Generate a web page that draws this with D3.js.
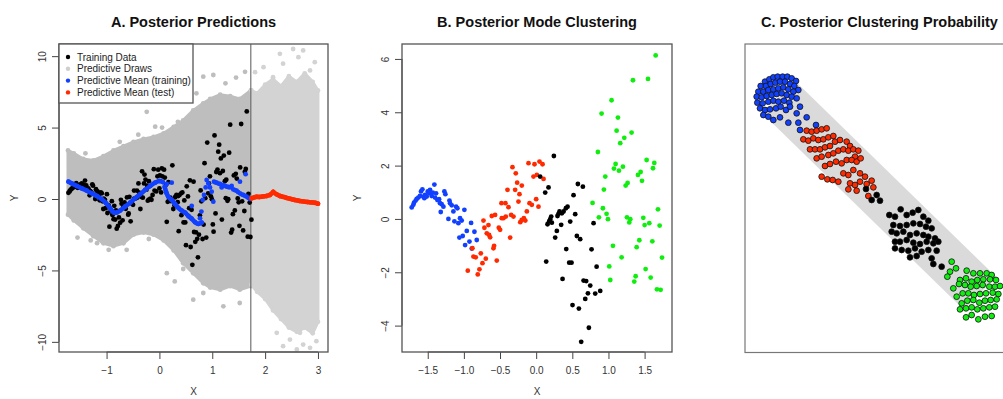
<!DOCTYPE html>
<html><head><meta charset="utf-8">
<script src="https://cdn.jsdelivr.net/npm/d3@7"></script>
<style>body{margin:0;background:#fff;} svg{display:block;font-family:"Liberation Sans",Arial,sans-serif;}</style>
</head><body><svg id="c" width="1003" height="399"></svg>
<script>
// ---------- training data (x, y) by posterior mode cluster ----------
const c1X = [-1.722,-1.699,-1.690,-1.667,-1.653,-1.630,-1.607,-1.593,-1.574,-1.560,-1.547,-1.537,-1.514,-1.500,-1.482,-1.468,-1.445,-1.431,-1.408,-1.399,-1.385,-1.367,-1.343,-1.330,-1.320,-1.307,-1.283,-1.270,-1.256,-1.214,-1.200,-1.191,-1.168,-1.145,-1.131,-1.108,-1.090,-1.076,-1.053,-1.030,-1.062,-1.016,-0.993,-0.983,-0.960,-0.923,-0.900,-0.891,-0.854,-0.822];
const c1Y = [0.43,0.53,0.61,0.69,0.75,0.80,0.86,1.03,1.11,0.84,0.78,0.90,0.84,1.03,0.96,1.09,0.86,0.99,1.29,0.80,0.96,0.71,0.74,0.59,0.26,0.55,0.46,1.03,0.93,0.00,0.69,0.59,0.51,0.28,-0.09,0.46,0.40,-0.16,0.03,-0.06,-0.70,-0.64,0.34,-0.98,-0.45,-0.85,-0.15,-1.11,-0.48,-0.79];
const c2X = [-0.946,-0.882,-0.868,-0.836,-0.808,-0.785,-0.766,-0.743,-0.729,-0.716,-0.697,-0.683,-0.660,-0.651,-0.637,-0.614,-0.591,-0.582,-0.568,-0.545,-0.517,-0.499,-0.476,-0.453,-0.480,-0.425,-0.420,-0.397,-0.383,-0.360,-0.346,-0.314,-0.328,-0.291,-0.282,-0.263,-0.245,-0.231,-0.199,-0.220,-0.200,-0.170,-0.150,-0.129,-0.106,-0.092,-0.060,-0.037,-0.023,0.000,0.009,0.032,0.046,0.088,0.102];
const c2Y = [-1.94,-1.10,-1.41,-1.44,-2.08,-1.89,-1.29,-1.66,-0.06,-0.33,-1.49,-0.54,-0.23,-0.60,-0.69,0.11,-1.10,-1.01,0.15,-1.56,-0.33,-0.41,0.03,0.03,0.59,0.59,0.09,1.09,0.44,-0.70,0.15,0.09,1.94,1.09,1.71,1.36,0.65,0.93,1.25,-0.12,-0.04,0.03,-0.06,0.28,2.09,0.59,0.53,1.59,2.05,0.74,1.65,0.46,2.15,2.05,1.50];
const c3X = [0.055,0.171,0.125,0.245,0.577,0.646,0.517,0.434,0.411,0.379,0.356,0.323,0.309,0.295,0.208,0.194,0.180,0.217,0.157,0.540,0.346,0.471,0.794,0.286,0.263,0.563,0.609,0.766,0.416,0.139,0.457,0.489,0.836,0.365,0.656,0.692,0.748,0.716,0.817,0.886,0.679,0.503,0.591,0.729,0.623];
const c3Y = [1.59,1.18,0.99,2.36,1.31,1.21,0.89,0.46,0.40,0.28,0.21,0.28,0.19,0.11,0.09,-0.01,-0.09,-0.14,-0.20,0.18,-0.22,-0.10,-0.16,-0.45,-0.70,-0.64,-0.76,-1.14,-1.13,-1.60,-1.64,-1.64,-1.79,-2.25,-2.31,-2.33,-2.50,-2.79,-2.80,-2.70,-3.00,-3.23,-3.36,-4.08,-4.61];
const c4X = [1.653,1.339,1.547,1.043,0.905,1.131,1.113,1.320,1.219,1.163,0.854,1.099,1.200,1.076,1.145,1.528,1.634,1.616,1.445,1.408,0.956,1.265,1.238,1.464,0.937,0.780,0.923,0.974,0.868,0.993,1.256,1.302,1.288,1.482,1.565,1.500,1.685,1.708,1.427,1.390,1.607,1.062,1.182,1.741,1.011,1.514,1.025,1.376,1.357,1.584,1.671,1.722];
const c4Y = [6.13,5.20,5.25,4.45,3.95,3.80,3.31,3.24,3.04,2.84,2.51,2.06,1.96,1.89,1.81,2.21,2.10,1.90,1.76,1.65,1.59,1.35,1.25,1.43,1.10,0.60,0.40,0.19,0.06,-0.01,0.06,-0.01,-0.13,0.04,-0.16,-0.23,0.36,-0.25,-0.80,-1.06,-0.84,-1.01,-1.44,-1.45,-1.78,-1.88,-2.29,-2.15,-2.35,-2.20,-2.64,-2.66];
const clusterColors = ["#1240ff","#ff2a00","#000000","#10ee10"];

// ---------- predictive mean (training) ----------
const meanSeg1X = [-1.720,-1.657,-1.562,-1.468,-1.373,-1.279,-1.184,-1.090,-1.008,-0.945,-0.890,-0.850,-0.800,-0.743,-0.649,-0.554,-0.460,-0.365,-0.271,-0.176,-0.082,0.000,0.063];
const meanSeg1Y = [1.21,1.09,0.91,0.74,0.58,0.40,0.21,-0.02,-0.30,-0.58,-0.85,-0.97,-0.93,-0.81,-0.53,-0.26,0.05,0.33,0.63,0.91,1.14,1.26,1.19];
const meanSeg2X = [0.100,0.130,0.170,0.233,0.296,0.359,0.422,0.485,0.548,0.611,0.674,0.737,0.800];
const meanSeg2Y = [0.85,0.45,0.15,-0.07,-0.35,-0.62,-0.81,-0.95,-1.19,-1.38,-1.62,-1.74,-1.65];
const meanScatX = [0.139,0.233,0.611,0.768,0.794,0.819,0.844,0.876,0.894,0.926,0.957,0.989,1.020,1.033,1.060,1.083,1.115,1.146,1.178,1.209,1.240,1.272,1.300,1.335,1.367,1.398,1.430,1.461,1.490,1.524,1.555,1.587,1.620,1.650,1.680,1.713,1.524,1.631];
const meanScatY = [1.05,1.14,-0.49,-1.35,-0.88,-0.07,0.28,0.81,1.33,1.09,0.81,0.51,-0.19,1.21,1.16,1.14,1.08,1.05,0.81,0.98,0.92,0.86,0.84,0.81,0.91,0.67,0.62,0.58,0.48,0.40,0.33,0.28,0.22,0.16,0.08,0.00,1.21,1.74];

// ---------- predictive mean (test) ----------
const testMeanX = [1.745,1.800,1.839,1.890,1.934,1.980,2.028,2.091,2.154,2.217,2.280,2.330,2.375,2.420,2.469,2.520,2.564,2.610,2.658,2.700,2.753,2.800,2.847,2.890,2.942,3.000];
const testMeanY = [0.05,0.12,0.16,0.14,0.16,0.19,0.21,0.28,0.49,0.33,0.21,0.16,0.12,0.06,0.02,-0.03,-0.07,-0.10,-0.14,-0.16,-0.19,-0.21,-0.23,-0.24,-0.26,-0.33];

// ---------- predictive draws: dense envelope + sparse draws ----------
const drawTrainX  = [-1.73,-1.62,-1.44,-1.25,-1.06,-0.87,-0.68,-0.49,-0.30,-0.11,0.08,0.27,0.45,0.64,0.83,0.96,1.15,1.34,1.52,1.73];
const drawTrainHi = [3.4,3.2,2.8,2.7,3.0,3.4,3.7,4.0,4.2,4.35,4.6,5.05,5.5,6.2,6.7,7.0,7.3,7.2,7.0,7.6];
const drawTrainLo = [-1.1,-1.5,-2.05,-2.6,-3.1,-3.3,-3.1,-2.5,-2.35,-2.5,-2.9,-3.6,-4.5,-5.2,-5.9,-6.2,-6.35,-6.1,-6.35,-6.1];
const drawTestX  = [1.74,1.85,2.00,2.15,2.30,2.45,2.60,2.75,2.90,3.00];
const drawTestHi = [7.6,7.4,8.0,8.4,7.9,8.6,8.2,8.8,8.2,7.6];
const drawTestLo = [-6.0,-6.5,-7.0,-7.8,-8.4,-9.0,-9.3,-9.0,-9.4,-8.6];
const sparseTrainX = [-0.55,-0.24,-0.08,0.61,0.83,1.02,0.70,1.25,1.45,1.62,-1.18,-0.96,-0.62,0.14,0.29,0.64,0.83,1.21,1.52,-1.55,0.45,-1.40,-0.75,-0.40,0.05,0.35,-1.30,-0.20];
const sparseTrainY = [3.53,6.10,5.06,5.86,8.56,8.68,7.4,8.1,8.5,8.9,-3.09,-3.56,-3.56,-5.19,-5.77,-7.05,-6.58,-7.51,-7.28,-2.7,-4.9,3.2,4.0,4.5,5.0,5.4,-2.9,-2.8];
const sparseTestX = [1.81,1.97,2.28,2.34,2.53,2.63,2.72,2.94,2.85,2.15,2.22,2.34,2.47,2.60,2.72,2.85,2.97,2.66];
const sparseTestY = [8.88,9.23,10.16,9.47,10.5,9.93,10.4,9.58,9.0,8.53,-9.37,-10.3,-9.84,-10.53,-10.19,-10.42,-9.95,-9.37];
const splitX = 1.73;

// ---------- panel C: embedding coordinates of pairwise clustering probability ----------
const mds1X = [75,88,100,113,128,142,155,168,62,78,92,106,120,135,150,163,175,55,70,85,100,115,130,145,160,50,65,80,95,110,125,140,155,170,52,68,85,100,115,132,148,60,75,90,108,122,138,150,70,85,100,120,145,170,180,175,200,180,228];
const mds1Y = [65,58,52,50,50,50,55,63,78,78,72,68,65,65,72,78,90,95,95,90,88,85,82,88,95,110,112,108,105,102,100,105,110,115,128,130,125,122,125,122,128,145,150,148,145,140,150,140,165,170,180,172,188,160,140,188,172,210,195];
const mds2X = [200,215,230,245,260,190,205,220,235,250,265,280,210,225,240,255,270,285,300,320,330,230,245,265,280,295,310,325,340,355,345,255,270,288,305,320,335,350,362,245,262,278,295,310,325,340,360,375,330,345,360,380,395,400,325,350,385];
const mds2Y = [212,215,212,208,205,238,242,235,240,238,232,228,268,268,268,262,258,245,240,245,258,295,290,285,280,272,268,272,268,272,290,318,312,305,310,300,300,305,295,350,358,360,365,340,345,330,340,350,370,375,365,372,362,382,388,392,408];
const mds3X = [378,395,420,410,448,465,482,500,518,535,550,565,460,480,500,520,540,558,575,455,470,490,510,530,550,565,585,465,480,500,520,540,560,580,595,465,485,505,525,545,565,590,510,530,575,580,605];
const mds3Y = [387,420,422,405,465,470,448,465,458,450,470,482,495,498,495,490,492,500,505,515,520,515,525,520,525,530,535,545,545,540,548,552,545,550,545,565,570,572,565,575,570,572,592,588,595,612,620];
const mds4X = [635,648,630,622,680,700,720,740,755,660,678,695,712,730,750,768,640,657,675,692,710,728,748,765,780,650,668,685,702,720,738,758,775,665,682,700,718,735,752,770,660,678,695,712,730,748,765,678,695,715,735,755];
const mds4Y = [605,625,635,650,632,640,640,640,645,660,655,665,660,658,658,660,685,672,675,680,678,675,680,680,678,710,700,700,705,702,700,698,702,730,722,720,728,722,720,718,748,745,742,748,745,742,740,772,765,778,770,768];
const bandX = [115,720];
const bandY = [110,700];

// ---------- ticks ----------
const ticksAX = [-1,0,1,2,3], ticksAY = [-10,-5,0,5,10];
const ticksBX = [-1.5,-1.0,-0.5,0.0,0.5,1.0,1.5], ticksBY = [-4,-2,0,2,4,6];
const legendLabels = ["Training Data","Predictive Draws","Predictive Mean (training)","Predictive Mean (test)"];
const legendColors = ["#000000","#cfcfcf","#1240ff","#ff2a00"];

const svg = d3.select("#c");
svg.append("rect").attr("width",1003).attr("height",399).attr("fill","#fff");
const zip = (a,b) => a.map((v,i)=>[v,b[i]]);
const R = 2.4;

function drawAxes(box, x, y, xt, yt, fmt) {
  const gb = svg.append("g").attr("transform",`translate(0,${box.b})`)
    .call(d3.axisBottom(x).tickValues(xt).tickSize(7).tickPadding(8).tickFormat(fmt));
  gb.select(".domain").remove();
  gb.append("line").attr("x1",x(xt[0])).attr("x2",x(xt[xt.length-1])).attr("stroke","#444");
  const gl = svg.append("g").attr("transform",`translate(${box.l},0)`)
    .call(d3.axisLeft(y).tickValues(yt).tickSize(7).tickFormat(d3.format("d")));
  gl.select(".domain").remove();
  gl.append("line").attr("y1",y(yt[0])).attr("y2",y(yt[yt.length-1])).attr("stroke","#444");
  gl.selectAll(".tick text").attr("transform","rotate(-90)").attr("x",0).attr("y",-13).attr("dy",0).attr("text-anchor","middle");
  [gb,gl].forEach(g=>{
    g.selectAll(".tick line").attr("stroke","#444");
    g.selectAll(".tick text").attr("fill","#333").style("font-size","10px").style("font-family","Liberation Sans, Arial, sans-serif");
  });
  svg.append("rect").attr("x",box.l).attr("y",box.t).attr("width",box.r-box.l).attr("height",box.b-box.t)
    .attr("fill","none").attr("stroke","#555").attr("stroke-width",1.3);
  svg.append("text").attr("x",(box.l+box.r)/2).attr("y",395).attr("text-anchor","middle").style("font-size","10px").attr("fill","#333").text("X");
  svg.append("text").attr("transform",`translate(${box.l-41},${(box.t+box.b)/2}) rotate(-90)`).attr("text-anchor","middle").style("font-size","10px").attr("fill","#333").text("Y");
}
function title(txt, cx) {
  svg.append("text").attr("x",cx).attr("y",26.5).attr("text-anchor","middle")
    .style("font-size","14.5px").style("font-weight","bold").attr("fill","#111").text(txt);
}

// ================= Panel A =================
const boxA = {l:59, r:328, t:44, b:352};
const xA = d3.scaleLinear().domain([-1.90,3.19]).range([boxA.l,boxA.r]);
const yA = d3.scaleLinear().domain([-10.71,10.85]).range([boxA.b,boxA.t]);
const gA = svg.append("g");
const area = d3.area().x(d=>xA(d[0])).y0(d=>yA(d[1])).y1(d=>yA(d[2])).curve(d3.curveLinear);
function cloud(xs, hi, lo, sx, sy, col) {
  const pts = xs.map((v,i)=>[v,lo[i],hi[i]]);
  gA.append("path").datum(pts).attr("d",area).attr("fill",col).attr("stroke",col).attr("stroke-width",3).attr("stroke-linejoin","round");
  const edge = [...zip(xs,hi), ...zip(xs,lo)];
  gA.selectAll(null).data([...edge, ...zip(sx,sy)]).join("circle").attr("cx",d=>xA(d[0])).attr("cy",d=>yA(d[1])).attr("r",R).attr("fill",col);
}
cloud(drawTrainX, drawTrainHi, drawTrainLo, sparseTrainX, sparseTrainY, "#bebebe");
cloud(drawTestX, drawTestHi, drawTestLo, sparseTestX, sparseTestY, "#d3d3d3");
gA.append("line").attr("x1",xA(splitX)).attr("x2",xA(splitX)).attr("y1",boxA.t).attr("y2",boxA.b).attr("stroke","#555").attr("stroke-width",1);
const allX = [...c1X,...c2X,...c3X,...c4X], allY = [...c1Y,...c2Y,...c3Y,...c4Y];
gA.selectAll(null).data(zip(allX,allY)).join("circle").attr("cx",d=>xA(d[0])).attr("cy",d=>yA(d[1])).attr("r",R).attr("fill","#000");
const line = d3.line().x(d=>xA(d[0])).y(d=>yA(d[1])).curve(d3.curveMonotoneX);
[[meanSeg1X,meanSeg1Y],[meanSeg2X,meanSeg2Y]].forEach(([sx,sy])=>{
  gA.append("path").datum(zip(sx,sy)).attr("d",line).attr("fill","none").attr("stroke","#1240ff").attr("stroke-width",4.6).attr("stroke-linecap","round");
});
gA.selectAll(null).data([...zip(meanSeg1X,meanSeg1Y),...zip(meanSeg2X,meanSeg2Y),...zip(meanScatX,meanScatY)]).join("circle")
  .attr("cx",d=>xA(d[0])).attr("cy",d=>yA(d[1])).attr("r",R).attr("fill","#1240ff");
gA.append("path").datum(zip(testMeanX,testMeanY)).attr("d",d3.line().x(d=>xA(d[0])).y(d=>yA(d[1]))).attr("fill","none").attr("stroke","#ff2a00").attr("stroke-width",4.6).attr("stroke-linecap","round");
gA.selectAll(null).data(zip(testMeanX,testMeanY)).join("circle").attr("cx",d=>xA(d[0])).attr("cy",d=>yA(d[1])).attr("r",R).attr("fill","#ff2a00");
drawAxes(boxA, xA, yA, ticksAX, ticksAY, d3.format("d"));
// legend
const lg = svg.append("g");
lg.append("rect").attr("x",boxA.l).attr("y",boxA.t).attr("width",134).attr("height",59).attr("fill","#fff").attr("stroke","#555").attr("stroke-width",1.3);
legendLabels.forEach((t,i)=>{
  const yy = 57 + i*11.8;
  lg.append("circle").attr("cx",68).attr("cy",yy).attr("r",2.2).attr("fill",legendColors[i]);
  lg.append("text").attr("x",77).attr("y",yy+3.6).style("font-size","10px").attr("fill","#222").text(t);
});
title("A. Posterior Predictions", (boxA.l+boxA.r)/2);

// ================= Panel B =================
const boxB = {l:402, r:672, t:44, b:352};
const xB = d3.scaleLinear().domain([-1.856,1.879]).range([boxB.l,boxB.r]);
const yB = d3.scaleLinear().domain([-4.99,6.56]).range([boxB.b,boxB.t]);
const gB = svg.append("g");
[[c1X,c1Y],[c2X,c2Y],[c3X,c3Y],[c4X,c4Y]].forEach(([sx,sy],k)=>{
  gB.selectAll(null).data(zip(sx,sy)).join("circle").attr("cx",d=>xB(d[0])).attr("cy",d=>yB(d[1])).attr("r",R).attr("fill",clusterColors[k]);
});
drawAxes(boxB, xB, yB, ticksBX, ticksBY, d3.format(".1f"));
title("B. Posterior Mode Clustering", (boxB.l+boxB.r)/2);

// ================= Panel C =================
const boxC = {l:745, r:1014, t:44, b:352.5};
const xC = d3.scaleLinear().domain([0,800]).range([740,1006.67]);
const yC = d3.scaleLinear().domain([0,800]).range([60,326.67]);
const gC = svg.append("g");
gC.append("line").attr("x1",xC(bandX[0])).attr("y1",yC(bandY[0])).attr("x2",xC(bandX[1])).attr("y2",yC(bandY[1]))
  .attr("stroke","#dadada").attr("stroke-width",46);
[[mds1X,mds1Y],[mds2X,mds2Y],[mds3X,mds3Y],[mds4X,mds4Y]].forEach(([sx,sy],k)=>{
  gC.selectAll(null).data(zip(sx,sy)).join("circle").attr("cx",d=>xC(d[0])).attr("cy",d=>yC(d[1])).attr("r",2.9)
    .attr("fill",clusterColors[k]).attr("stroke","#111").attr("stroke-width",0.8);
});
svg.append("rect").attr("x",boxC.l).attr("y",boxC.t).attr("width",boxC.r-boxC.l).attr("height",boxC.b-boxC.t)
  .attr("fill","none").attr("stroke","#777").attr("stroke-width",1.2);
title("C. Posterior Clustering Probability", (boxC.l+boxC.r)/2);
</script></body></html>
